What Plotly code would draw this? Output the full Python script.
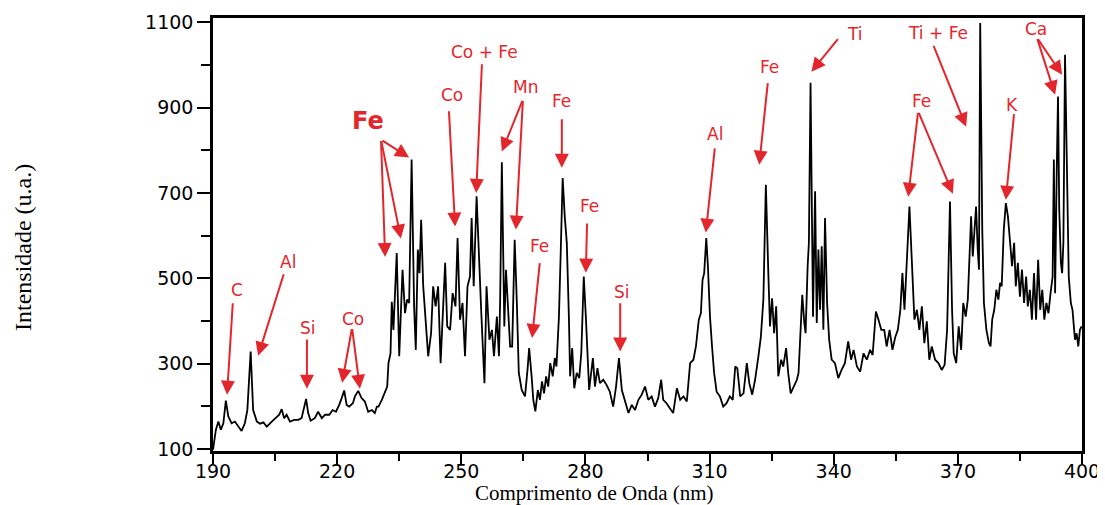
import plotly.graph_objects as go

# Spectrum (wavelength nm, intensity a.u.)
wavelength = [
    190.0, 190.3, 190.7, 191.3, 191.9, 192.5, 193.1, 193.7, 194.5, 195.3, 196.1, 196.9, 197.7, 198.3,
    199.1, 199.7, 200.6, 201.4, 202.2, 203.0, 204.2, 205.2, 206.0, 206.6, 207.2, 207.8, 208.6, 209.6,
    210.6, 211.4, 211.8, 212.5, 213.0, 213.6, 214.6, 215.4, 216.3, 217.1, 218.1, 218.9, 219.7, 220.5,
    221.1, 221.7, 222.3, 222.9, 223.8, 224.3, 225.1, 225.9, 226.7, 227.5, 228.4, 229.1, 229.6, 230.0,
    230.8, 231.6, 232.1, 232.4, 232.9, 233.2, 233.6, 234.4, 235.0, 235.8, 236.4, 236.9, 237.4, 238.0,
    238.6, 239.0, 239.5, 239.9, 240.3, 240.8, 241.5, 242.0, 242.7, 243.2, 243.8, 244.4, 245.0, 245.5,
    246.1, 246.6, 247.3, 247.9, 248.6, 249.1, 249.7, 250.3, 250.9, 251.5, 252.1, 252.5, 253.0, 253.7,
    254.3, 254.8, 255.6, 256.1, 256.8, 257.4, 257.9, 258.6, 259.1, 259.4, 259.8, 260.4, 260.8, 261.2,
    261.8, 262.3, 262.9, 263.4, 263.9, 264.6, 265.4, 266.0, 266.4, 267.0, 267.4, 267.9, 268.5, 269.0,
    269.5, 270.0, 270.5, 271.0, 271.5, 272.1, 272.6, 273.0, 273.6, 274.0, 274.5, 275.0, 275.5, 276.0,
    276.3, 276.8, 277.3, 277.9, 278.5, 279.0, 279.6, 280.1, 280.9, 281.8, 282.3, 282.9, 283.5, 284.3,
    285.1, 285.9, 286.7, 287.4, 288.1, 288.8, 289.6, 290.4, 291.2, 292.0, 292.8, 293.6, 294.4, 295.2,
    296.0, 296.8, 297.6, 298.3, 298.8, 299.6, 300.4, 301.2, 302.1, 302.9, 303.7, 304.5, 305.3, 306.1,
    306.7, 307.4, 307.9, 308.3, 308.7, 309.2, 309.6, 310.1, 310.6, 311.1, 311.7, 312.5, 313.3, 314.1,
    314.9, 315.6, 316.2, 316.7, 317.4, 318.2, 319.0, 319.6, 320.3, 321.0, 321.8, 322.4, 323.0, 323.6,
    324.2, 324.6, 325.1, 325.6, 326.1, 326.6, 327.3, 327.8, 328.5, 329.0, 329.6, 330.4, 331.1, 331.5,
    332.1, 332.4, 332.9, 333.2, 333.7, 334.0, 334.4, 334.7, 335.0, 335.5, 335.9, 336.3, 336.7, 337.1,
    337.5, 337.9, 338.4, 338.9, 339.5, 340.3, 341.1, 341.9, 342.7, 343.5, 344.2, 344.8, 345.6, 346.4,
    347.2, 348.0, 348.8, 349.4, 350.2, 350.8, 351.5, 352.2, 352.8, 353.5, 354.2, 354.9, 355.5, 356.1,
    356.6, 357.1, 357.7, 358.3, 358.9, 359.5, 360.1, 360.7, 361.3, 361.9, 362.5, 363.1, 363.7, 364.5,
    365.3, 366.1, 366.8, 367.4, 368.1, 368.6, 369.0, 369.6, 370.2, 370.8, 371.3, 371.9, 372.4, 372.9,
    373.2, 373.6, 374.1, 374.4, 374.8, 375.1, 375.4, 375.9, 376.3, 376.9, 377.5, 377.9, 378.3, 378.8,
    379.3, 379.8, 380.2, 380.6, 381.1, 381.6, 382.1, 382.6, 383.1, 383.6, 384.0, 384.5, 385.0, 385.5,
    386.0, 386.5, 386.9, 387.4, 387.9, 388.4, 388.9, 389.4, 389.9, 390.4, 390.9, 391.4, 391.9, 392.4,
    392.9, 393.2, 393.5, 393.9, 394.2, 394.5, 394.9, 395.2, 395.5, 395.9, 396.3, 396.8, 397.3, 397.7,
    398.3, 398.7, 399.1, 399.5, 399.9,
]
intensity = [
    98, 120, 145, 164, 145, 160, 213, 176, 160, 164, 152, 142, 160, 191,
    328, 191, 164, 159, 162, 152, 164, 172, 180, 193, 172, 180, 164, 168,
    168, 172, 187, 217, 184, 166, 172, 187, 172, 180, 180, 191, 187, 203,
    219, 237, 203, 199, 207, 223, 236, 219, 211, 187, 191, 184, 199, 199,
    215, 235, 246, 301, 324, 445, 379, 559, 317, 520, 418, 450, 442, 778,
    434, 332, 567, 512, 637, 481, 387, 317, 371, 481, 434, 481, 301, 410,
    536, 387, 379, 465, 434, 594, 403, 442, 317, 481, 504, 641, 481, 692,
    520, 426, 254, 481, 356, 379, 317, 410, 317, 450, 772, 387, 520, 442,
    340, 340, 590, 450, 278, 238, 223, 285, 336, 270, 215, 188, 238, 215,
    258, 230, 270, 246, 301, 270, 313, 293, 410, 551, 735, 645, 583, 410,
    270, 336, 242, 278, 266, 324, 504, 410, 238, 313, 246, 289, 254, 262,
    250, 234, 199, 246, 313, 238, 211, 184, 203, 191, 215, 227, 246, 215,
    223, 199, 219, 262, 215, 207, 195, 184, 242, 215, 223, 211, 301, 309,
    340, 403, 418, 496, 512, 594, 528, 410, 340, 278, 234, 223, 199, 207,
    223, 215, 293, 289, 223, 230, 301, 254, 227, 262, 317, 363, 450, 719,
    512, 387, 453, 371, 434, 270, 309, 293, 336, 278, 230, 246, 262, 278,
    426, 461, 395, 371, 528, 583, 958, 700, 410, 704, 395, 567, 426, 575,
    379, 641, 442, 356, 309, 301, 266, 285, 301, 352, 309, 332, 293, 281,
    324, 309, 332, 320, 422, 403, 379, 379, 340, 379, 332, 363, 379, 426,
    512, 426, 567, 668, 536, 403, 426, 379, 434, 348, 399, 309, 340, 309,
    301, 285, 297, 379, 680, 426, 324, 301, 387, 332, 442, 410, 450, 551,
    645, 551, 637, 668, 567, 520, 1098, 614, 442, 379, 348, 340, 403, 426,
    473, 450, 489, 481, 614, 676, 645, 583, 528, 583, 481, 536, 457, 520,
    442, 504, 434, 473, 403, 512, 403, 543, 426, 473, 403, 442, 418, 465,
    504, 778, 465, 754, 926, 661, 536, 512, 583, 1024, 739, 504, 442, 426,
    356, 371, 340, 379, 387,
]

# Peak labels: text, label position (x, y), arrow tail (x, y), arrow heads [(x, y), ...]
label_texts = ["C", "Al", "Si", "Co", "Fe", "Co", "Co + Fe", "Mn", "Fe", "Fe",
               "Fe", "Si", "Al", "Fe", "Ti", "Ti + Fe", "Fe", "K", "Ca"]
label_pos = [(195.8, 473), (208.1, 539), (213.0, 384), (223.8, 405), (227.5, 869),
             (247.8, 930), (255.7, 1031), (265.6, 949), (274.3, 916), (268.8, 576),
             (281.1, 670), (288.8, 468), (311.3, 839), (324.6, 994), (345.1, 1073),
             (365.2, 1076), (361.3, 916), (383.1, 907), (388.9, 1085)]
arrow_tails = [(194.8, 445), (207.2, 513), (212.7, 360), (223.6, 384), (230.6, 825),
               (247.0, 895), (255.0, 1005), (264.9, 919), (274.3, 876), (269.0, 539),
               (280.4, 632), (288.4, 445), (311.3, 808), (324.1, 961), (341.3, 1064),
               (364.0, 1048), (360.4, 891), (383.6, 888), (389.1, 1064)]
arrow_heads = [[(193.4, 227)], [(200.9, 318)], [(212.7, 241)], [(221.2, 255), (225.5, 241)],
               [(231.6, 550), (235.4, 593), (237.4, 783)], [(248.5, 621)], [(253.6, 700)],
               [(259.8, 797), (263.2, 614)], [(274.3, 759)], [(267.1, 360)], [(280.1, 513)],
               [(288.4, 328)], [(309.1, 607)], [(322.0, 766)], [(334.6, 984)], [(372.0, 855)],
               [(358.0, 691), (368.8, 698)], [(381.6, 684)], [(393.5, 930), (395.2, 977)]]
big_label_index = 4

RED = "#e3262b"

fig = go.Figure()
fig.add_trace(go.Scatter(x=wavelength, y=intensity, mode="lines",
                         line=dict(color="black", width=1.8), showlegend=False,
                         hoverinfo="skip"))

annotations = []
for i, txt in enumerate(label_texts):
    lx, ly = label_pos[i]
    big = (i == big_label_index)
    annotations.append(dict(
        x=lx, y=ly, xref="x", yref="y", text=txt, showarrow=False,
        font=dict(family="DejaVu Sans", size=24 if big else 17, color=RED,
                  weight="bold" if big else "normal"),
        xanchor="center", yanchor="middle"))
    tx, ty = arrow_tails[i]
    for hx, hy in arrow_heads[i]:
        annotations.append(dict(
            x=hx, y=hy, xref="x", yref="y", ax=tx, ay=ty, axref="x", ayref="y",
            text="", showarrow=True, arrowhead=2, arrowsize=1.4, arrowwidth=2,
            arrowcolor=RED, standoff=0, startstandoff=0))

# plot area in page pixels: left 213, right 1082, top 18, bottom 451
annotations.append(dict(
    x=(594 - 213) / 869, y=(451 - 493) / 433, xref="paper", yref="paper",
    text="Comprimento de Onda (nm)", showarrow=False,
    font=dict(family="Liberation Serif", size=21, color="black"),
    xanchor="center", yanchor="middle"))
annotations.append(dict(
    x=(23 - 213) / 869, y=(451 - 248) / 433, xref="paper", yref="paper",
    text="Intensidade (u.a.)", showarrow=False, textangle=-90,
    font=dict(family="Liberation Serif", size=24, color="black"),
    xanchor="center", yanchor="middle"))

# the page body adds an 8 px offset, so the figure is 8 px smaller and shifted
fig.update_layout(
    width=1097, height=497,
    margin=dict(l=205, r=23, t=10, b=54, autoexpand=False),
    paper_bgcolor="white", plot_bgcolor="white",
    annotations=annotations,
    xaxis=dict(range=[190, 400], tick0=190, dtick=30, ticks="outside", ticklen=11,
               tickwidth=2, tickcolor="black", showline=True, linecolor="black",
               linewidth=2.5, mirror=True, showgrid=False, zeroline=False,
               ticklabelstandoff=-10,
               tickfont=dict(family="DejaVu Sans", size=19, color="black"),
               minor=dict(dtick=15, tick0=190, ticks="outside", ticklen=7,
                          tickwidth=2, tickcolor="black", showgrid=False)),
    yaxis=dict(range=[95, 1110], tick0=100, dtick=200, ticks="outside", ticklen=13,
               tickwidth=2, tickcolor="black", showline=True, linecolor="black",
               linewidth=2.5, mirror=True, showgrid=False, zeroline=False,
               tickfont=dict(family="DejaVu Sans", size=19, color="black"),
               minor=dict(dtick=100, tick0=100, ticks="outside", ticklen=9,
                          tickwidth=2, tickcolor="black", showgrid=False)),
)

fig.write_html("out.html")
